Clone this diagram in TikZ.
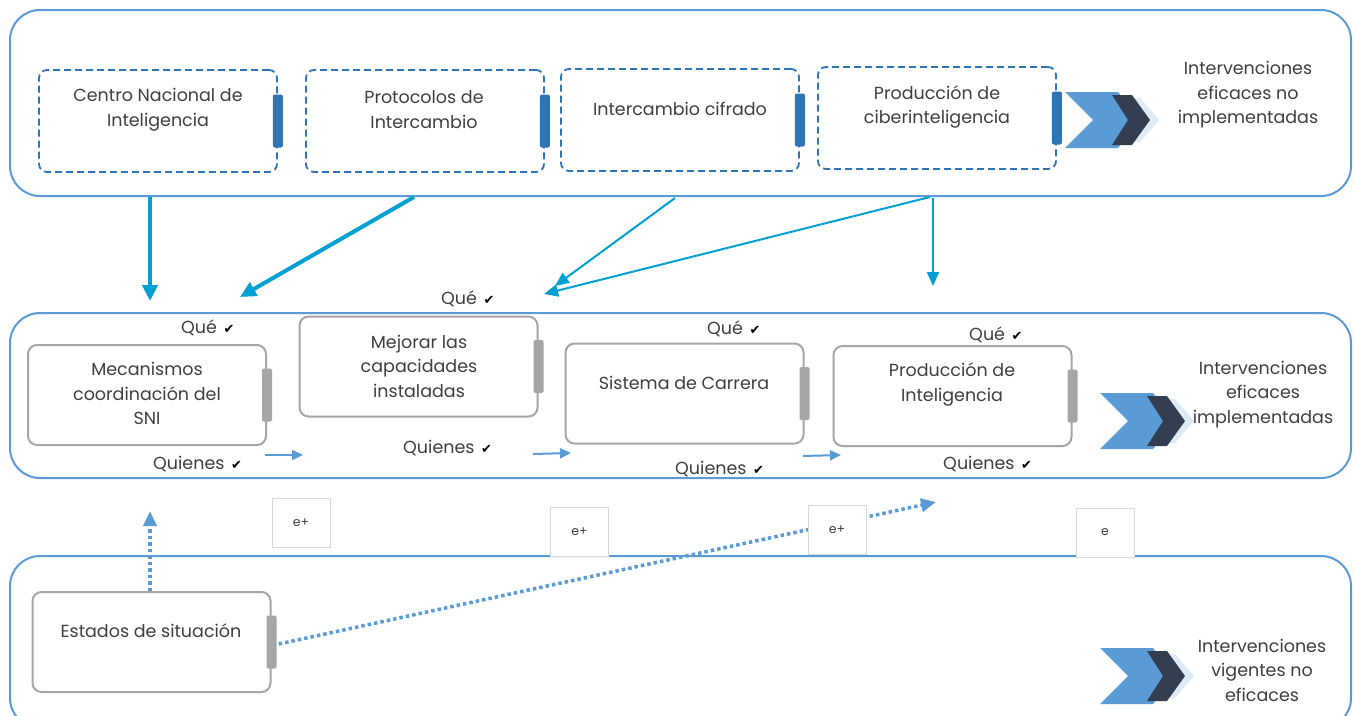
\documentclass[tikz,border=0pt]{standalone}
\usepackage{fontspec}
\setmainfont{Poppins}
\newfontfamily\symfont{DejaVu Sans}
\usetikzlibrary{arrows.meta}

\definecolor{panelblue}{HTML}{5B9BD5}
\definecolor{tabblue}{HTML}{2E75B6}
\definecolor{boxgray}{HTML}{A6A6A6}
\definecolor{txtgray}{HTML}{3F3F3F}
\definecolor{arrowcyan}{HTML}{00A0D2}
\definecolor{chevdark}{HTML}{333F50}
\definecolor{chevpale}{HTML}{DDEBF7}
\definecolor{eboxgray}{HTML}{D9D9D9}

\newcommand{\boxfont}{\fontsize{17.5}{24.5}\selectfont}
\newcommand{\chk}{\hspace{2pt}{\symfont\fontsize{13}{13}\selectfont\color{black}✔}}

\tikzset{
  panel/.style={draw=panelblue, line width=2pt, rounded corners=30pt},
  dashbox/.style={draw=tabblue, dash pattern=on 7pt off 4pt, line width=1.8pt, rounded corners=8pt,
    minimum width=238pt, minimum height=102pt, inner sep=0pt},
  graybox/.style={draw=boxgray, line width=2pt, rounded corners=9pt,
    minimum width=238pt, minimum height=100pt, inner sep=0pt},
  bluetab/.style={fill=tabblue, rounded corners=2pt, minimum width=10pt, minimum height=53pt, inner sep=0pt},
  graytab/.style={fill=boxgray, rounded corners=2pt, minimum width=10pt, minimum height=53pt, inner sep=0pt},
  boxtext/.style={align=center, text=txtgray, font=\boxfont, inner sep=0pt},
  marktext/.style={anchor=west, text=txtgray, font=\boxfont, inner sep=0pt},
  ebox/.style={draw=eboxgray, fill=white, line width=1pt, minimum width=58pt, minimum height=49pt,
    text=txtgray, font=\fontsize{12.5}{12.5}\selectfont},
  thickarrow/.style={arrowcyan, line width=4pt, -{Triangle[length=16pt, width=15pt]}},
  thinarrow/.style={arrowcyan, line width=2pt, -{Triangle[length=14pt, width=12pt]}},
  steparrow/.style={panelblue, line width=2pt, -{Triangle[length=11pt, width=10pt]}},
  dotarrow/.style={panelblue, line width=3.5pt, dash pattern=on 3.5pt off 3pt, -{Triangle[length=15pt, width=13pt]}},
  pics/chevrons/.style={code={
    \fill[chevpale] (55,-22) -- (75,-22) -- (94,0) -- (75,22) -- (55,22) -- (71,0) -- cycle;
    \fill[panelblue] (0,-28) -- (53,-28) -- (75,0) -- (53,28) -- (0,28) -- (28,0) -- cycle;
    \fill[chevdark] (47,-25) -- (67,-25) -- (85,0) -- (67,25) -- (47,25) -- (63,0) -- cycle;
  }}
}

\begin{document}
\begin{tikzpicture}[x=1pt, y=-1pt]
\clip (0,0) rectangle (1354,715);
\fill[white] (0,0) rectangle (1354,715);

% Panels
\draw[panel] (10,10) rectangle (1351,196);
\draw[panel] (10,313) rectangle (1351,478);
\draw[panel] (10,556) rectangle (1351,728);

% Intervenciones eficaces no implementadas
\node[dashbox] (cni) at (158,121) {};
\node[bluetab] (cnitab) at (cni.east) {};
\node[boxtext] (cnitxt) at (158,109.5) {Centro Nacional de\\Inteligencia};

\node[dashbox] (proto) at (425,121) {};
\node[bluetab] (prototab) at (proto.east) {};
\node[boxtext] (prototxt) at (424,109.5) {Protocolos de\\Intercambio};

\node[dashbox] (cifrado) at (680,120) {};
\node[bluetab] (cifradotab) at (cifrado.east) {};
\node[boxtext] (cifradotxt) at (680,109) {Intercambio cifrado};

\node[dashbox] (ciber) at (937,118) {};
\node[bluetab] (cibertab) at (ciber.east) {};
\node[boxtext] (cibertxt) at (937,107) {Producción de\\ciberinteligencia};

\pic at (1065,120) {chevrons};
\node[boxtext] (noimpl) at (1248,95) {Intervenciones\\eficaces no\\implementadas};

% Intervenciones eficaces implementadas
\node[graybox] (mecan) at (147,395) {};
\node[graytab] (mecantab) at (mecan.east) {};
\node[boxtext] (mecantxt) at (147,393.5) {Mecanismos\\coordinación del\\SNI};

\node[graybox] (mejorar) at (418.5,366.5) {};
\node[graytab] (mejorartab) at (mejorar.east) {};
\node[boxtext] (mejorartxt) at (419,366) {Mejorar las\\capacidades\\instaladas};

\node[graybox] (carrera) at (684.5,393.5) {};
\node[graytab] (carreratab) at (carrera.east) {};
\node[boxtext] (carreratxt) at (684,383) {Sistema de Carrera};

\node[graybox] (prodint) at (952.5,396) {};
\node[graytab] (prodinttab) at (prodint.east) {};
\node[boxtext] (prodinttxt) at (952,384.5) {Producción de\\Inteligencia};

\pic at (1100,421) {chevrons};
\node[boxtext] (impl) at (1263,394.5) {Intervenciones\\eficaces\\implementadas};

% Que / Quienes
\node[marktext] (que1) at (181,328) {Qué \chk};
\node[marktext] (que2) at (441,299) {Qué \chk};
\node[marktext] (que3) at (707,329) {Qué \chk};
\node[marktext] (que4) at (969,335) {Qué \chk};
\node[marktext] (quien1) at (153,464) {Quienes \chk};
\node[marktext] (quien2) at (403,448) {Quienes \chk};
\node[marktext] (quien3) at (675,469) {Quienes \chk};
\node[marktext] (quien4) at (943,464) {Quienes \chk};

\coordinate (s1a) at (265,455); \coordinate (s1b) at (303,455);
\coordinate (s2a) at (533,454); \coordinate (s2b) at (571,453);
\coordinate (s3a) at (803,456); \coordinate (s3b) at (841,455);
\draw[steparrow] (s1a) -- (s1b);
\draw[steparrow] (s2a) -- (s2b);
\draw[steparrow] (s3a) -- (s3b);

% Intervenciones vigentes no eficaces
\node[graybox] (estados) at (151.5,642) {};
\node[graytab] (estadostab) at (estados.east) {};
\node[boxtext] (estadostxt) at (151,631) {Estados de situación};

\pic at (1100,676) {chevrons};
\node[boxtext] (vigentes) at (1262,670) {Intervenciones\\vigentes no\\eficaces};

% Top arrows
\coordinate (t1) at (150,197);  \coordinate (h1) at (150,301);
\coordinate (t2) at (414,197);  \coordinate (h2) at (240,297);
\coordinate (t3) at (675,198);  \coordinate (h3) at (555,286);
\coordinate (t4) at (930,197);  \coordinate (h4) at (544,294);
\coordinate (t5) at (933,198);  \coordinate (h5) at (933,286);
\draw[thickarrow] (t1) -- (h1);
\draw[thickarrow] (t2) -- (h2);
\draw[thinarrow] (t3) -- (h3);
\draw[thinarrow] (t4) -- (h4);
\draw[thinarrow] (t5) -- (h5);

% Dotted arrows
\coordinate (d1) at (150,511);
\coordinate (d2) at (936,502);
\draw[dotarrow] (estados.north -| d1) -- (d1);
\draw[dotarrow] (estadostab.east) ++(2,2) -- (d2);

% e boxes
\node[ebox] (e1) at (301,522.5) {e+};
\node[ebox] (e2) at (579.5,531.5) {e+};
\node[ebox] (e3) at (837,530) {e+};
\node[ebox] (e4) at (1105,532.5) {e};

\end{tikzpicture}
\end{document}
